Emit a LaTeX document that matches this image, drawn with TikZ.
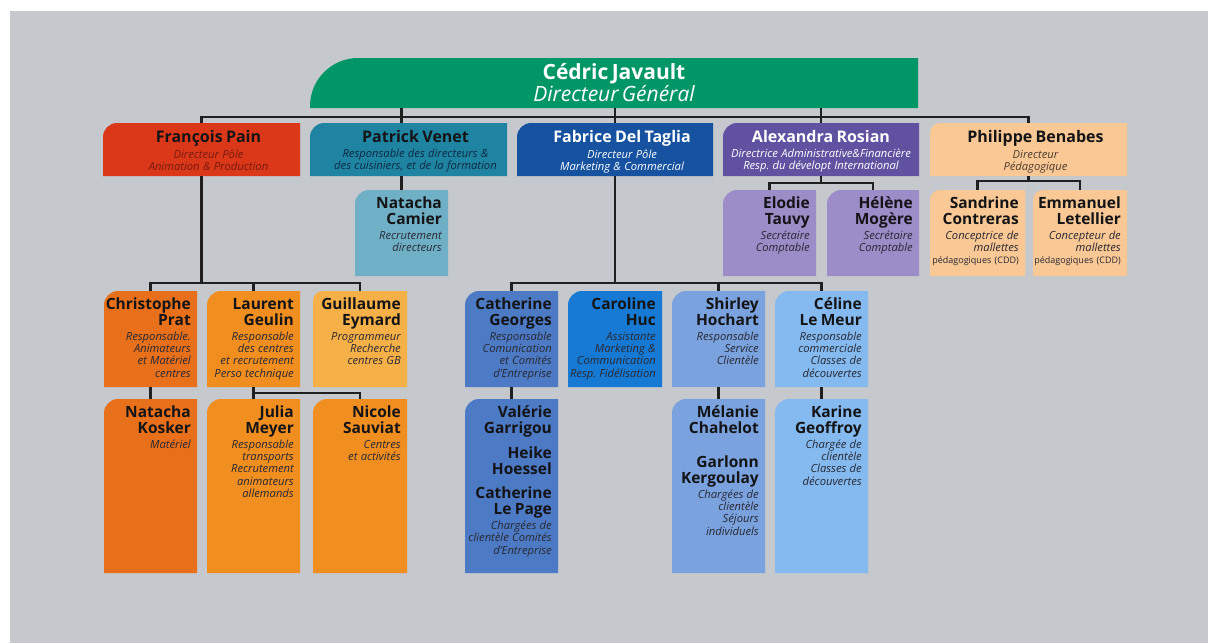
\documentclass[tikz,border=0pt]{standalone}
\usepackage{fontspec}
\setmainfont{Open Sans}
\frenchspacing
\definecolor{bg}{RGB}{197,200,204}
\definecolor{cgreen}{RGB}{0,150,102}
\definecolor{cred}{RGB}{218,56,24}
\definecolor{cteal}{RGB}{30,132,162}
\definecolor{cteall}{RGB}{112,176,198}
\definecolor{cdblue}{RGB}{22,82,160}
\definecolor{cpurple}{RGB}{96,82,160}
\definecolor{clav}{RGB}{156,140,200}
\definecolor{cpeach}{RGB}{249,200,148}
\definecolor{corA}{RGB}{232,112,26}
\definecolor{corB}{RGB}{240,142,32}
\definecolor{corC}{RGB}{246,176,72}
\definecolor{cbA}{RGB}{76,122,196}
\definecolor{cbB}{RGB}{22,122,212}
\definecolor{cbC}{RGB}{122,162,222}
\definecolor{cbD}{RGB}{132,186,240}
\definecolor{tdark}{RGB}{20,20,22}
\definecolor{tsub}{RGB}{40,40,50}
\definecolor{tred}{RGB}{120,25,15}
\definecolor{tnavy}{RGB}{15,40,65}
\definecolor{tbrown}{RGB}{75,60,50}
\newcommand\obox[7]{%
  \fill[#7] (#2,#5) -- (#2,#3+#6) .. controls (#2,#3+0.45*#6) and (#2+0.45*#6,#3) .. (#2+#6,#3) -- (#4,#3) -- (#4,#5) -- cycle;
  \node[boxnode, minimum width=#4-#2, minimum height=#5-#3] (#1) at (#2,#3) {};}
\newcommand\nm[1]{{\fontsize{15.5}{16}\selectfont\bfseries\rule{0pt}{12.5pt}#1\par}}
\newcommand\st[1]{{\vskip2.5pt\fontsize{11.2}{12.4}\selectfont\itshape\color{tsub}#1\par}}
\newcommand\lnm[1]{{\fontsize{16}{17}\selectfont\bfseries\rule{0pt}{13pt}#1\par}}
\newcommand\lst[1]{{\vskip3pt\fontsize{11.2}{12}\selectfont\itshape #1\par}}
\newcommand\rt[2]{\node[rtext, anchor=north east] (#1-t) at ([xshift=-6pt,yshift=-5.5pt]#1.north east) {#2};}
\newcommand\lt[3]{\node[ctext, anchor=north] (#1-t) at ([xshift=#2pt,yshift=-6pt]#1.north) {#3};}
\tikzset{
  boxnode/.style={inner sep=0pt, outer sep=0pt, anchor=north west},
  rtext/.style={inner sep=0pt, align=right, text width=130pt, text=tdark},
  ctext/.style={inner sep=0pt, align=center, text width=200pt, text=tdark},
  link/.style={line width=2.3pt, draw=black!88},
}
\begin{document}
\begin{tikzpicture}[x=1pt,y=-1pt]
\useasboundingbox (0,0) rectangle (1208,643);
\fill[white] (0,0) rectangle (1208,643);
\fill[bg] (10,11) rectangle (1208,643);

% boxes
\obox{ced}{310}{58}{918}{108}{48}{cgreen}
\obox{fp}{103}{123}{300}{176}{14}{cred}
\obox{pv}{310}{123}{507}{176}{14}{cteal}
\obox{fdt}{517}{123}{713}{176}{14}{cdblue}
\obox{ar}{723}{123}{919}{176}{14}{cpurple}
\obox{pb}{930}{123}{1127}{176}{10}{cpeach}
\obox{nc}{355}{190}{448}{276}{14}{cteall}
\obox{et}{723}{190}{816}{276}{14}{clav}
\obox{hm}{827}{190}{919}{276}{14}{clav}
\obox{sc}{930}{190}{1025}{276}{10}{cpeach}
\obox{el}{1033}{190}{1127}{276}{10}{cpeach}
\obox{cp}{104}{291}{197}{387}{14}{corA}
\obox{lg}{207}{291}{300}{387}{14}{corB}
\obox{ge}{313}{291}{407}{387}{10}{corC}
\obox{cg}{465}{291}{558}{387}{14}{cbA}
\obox{ch}{568}{291}{662}{387}{14}{cbB}
\obox{sh}{672}{291}{765}{387}{14}{cbC}
\obox{cl}{775}{291}{868}{387}{14}{cbD}
\obox{nk}{104}{399}{197}{573}{14}{corA}
\obox{jm}{207}{399}{300}{573}{14}{corB}
\obox{ns}{313}{399}{407}{573}{14}{corB}
\obox{vg}{465}{399}{558}{573}{14}{cbA}
\obox{mc}{672}{399}{765}{573}{14}{cbC}
\obox{kg}{775}{399}{868}{573}{14}{cbD}

% connectors
\draw[link] (fp.north) -- ++(0,-6) -| (pb.north);
\draw[link] (ced.south -| nc.north) -- (pv.north -| nc.north);
\draw[link] (ced.south -| fdt.north) -- (fdt.north);
\draw[link] (ced.south -| ar.north) -- (ar.north);
\draw[link] (pv.south -| nc.north) -- (nc.north);
\draw[link] (ar.south) -- ++(0,7);
\draw[link] (et.north) -- ++(0,-7) -| (hm.north);
\draw[link] (pb.south) -- ++(0,5);
\draw[link] (sc.north) -- ++(0,-9) -| (el.north);
\draw[link] (fp.south) -- ++(0,107);
\draw[link] (cp.north) -- ++(0,-8) -| (ge.north);
\draw[link] (lg.north) -- ++(0,-8);
\draw[link] (cp.south) -- (nk.north);
\draw[link] (lg.south) -- (jm.north);
\draw[link] (jm.north) -- ++(0,-6) -| (ns.north);
\draw[link] (fdt.south) -- ++(0,107);
\draw[link] (cg.north) -- ++(0,-8) -| (cl.north);
\draw[link] (sh.north) -- ++(0,-8);
\draw[link] (cg.south) -- (vg.north);
\draw[link] (sh.south) -- (mc.north);
\draw[link] (cl.south) -- (kg.north);

% texts
\node[ctext, anchor=north, text=white] (ced-t) at ([yshift=-4pt]ced.north) {\fontsize{21}{22}\selectfont\rule{0pt}{17pt}{\bfseries Cédric Javault}\\\itshape Directeur Général\par};
\lt{fp}{7}{\lnm{François Pain}\lst{\color{tred}Directeur Pôle\\Animation \& Production}}
\lt{pv}{7}{\lnm{Patrick Venet}\lst{\color{tnavy}Responsable des directeurs \&\\des cuisiniers, et de la formation}}
\lt{fdt}{7}{\color{white}\lnm{Fabrice Del Taglia}\lst{Directeur Pôle\\Marketing \& Commercial}}
\lt{ar}{0}{\color{white}\lnm{Alexandra Rosian}\lst{Directrice Administrative\&Financière\\Resp. du dévelopt International}}
\lt{pb}{7}{\lnm{Philippe Benabes}\lst{\color{tbrown}Directeur\\Pédagogique}}

\rt{nc}{\nm{Natacha\\Camier}\st{Recrutement\\directeurs}}
\rt{et}{\nm{Elodie\\Tauvy}\st{Secrétaire\\Comptable}}
\rt{hm}{\nm{Hélène\\Mogère}\st{Secrétaire\\Comptable}}
\rt{sc}{\nm{Sandrine\\Contreras}\st{Conceptrice de\\mallettes\\{\fontsize{9}{12.3}\selectfont\upshape pédagogiques (CDD)}}}
\rt{el}{\nm{Emmanuel\\Letellier}\st{Concepteur de\\mallettes\\{\fontsize{9}{12.3}\selectfont\upshape pédagogiques (CDD)}}}

\rt{cp}{\nm{Christophe\\Prat}\st{Responsable.\\Animateurs\\et Matériel\\centres}}
\rt{lg}{\nm{Laurent\\Geulin}\st{Responsable\\des centres\\et recrutement\\Perso technique}}
\rt{ge}{\nm{Guillaume\\Eymard}\st{Programmeur\\Recherche\\centres GB}}
\rt{cg}{\nm{Catherine\\Georges}\st{Responsable\\Comunication\\et Comités\\d'Entreprise}}
\rt{ch}{\nm{Caroline\\Huc}\st{Assistante\\Marketing \&\\Communication\\Resp. Fidélisation}}
\rt{sh}{\nm{Shirley\\Hochart}\st{Responsable\\Service\\Clientèle}}
\rt{cl}{\nm{Céline\\Le Meur}\st{Responsable\\commerciale\\Classes de\\découvertes}}

\rt{nk}{\nm{Natacha\\Kosker}\st{Matériel}}
\rt{jm}{\nm{Julia\\Meyer}\st{Responsable\\transports\\Recrutement\\animateurs\\allemands}}
\rt{ns}{\nm{Nicole\\Sauviat}\st{Centres\\et activités}}
\rt{vg}{\nm{Valérie\\Garrigou}\vskip8pt\nm{Heike\\Hoessel}\vskip8pt\nm{Catherine\\Le Page}\st{Chargées de\\clientèle Comités\\d'Entreprise}}
\rt{mc}{\nm{Mélanie\\Chahelot}\vskip18pt\nm{Garlonn\\Kergoulay}\st{Chargées de\\clientèle\\Séjours\\individuels}}
\rt{kg}{\nm{Karine\\Geoffroy}\st{Chargée de\\clientèle\\Classes de\\découvertes}}
\end{tikzpicture}
\end{document}
